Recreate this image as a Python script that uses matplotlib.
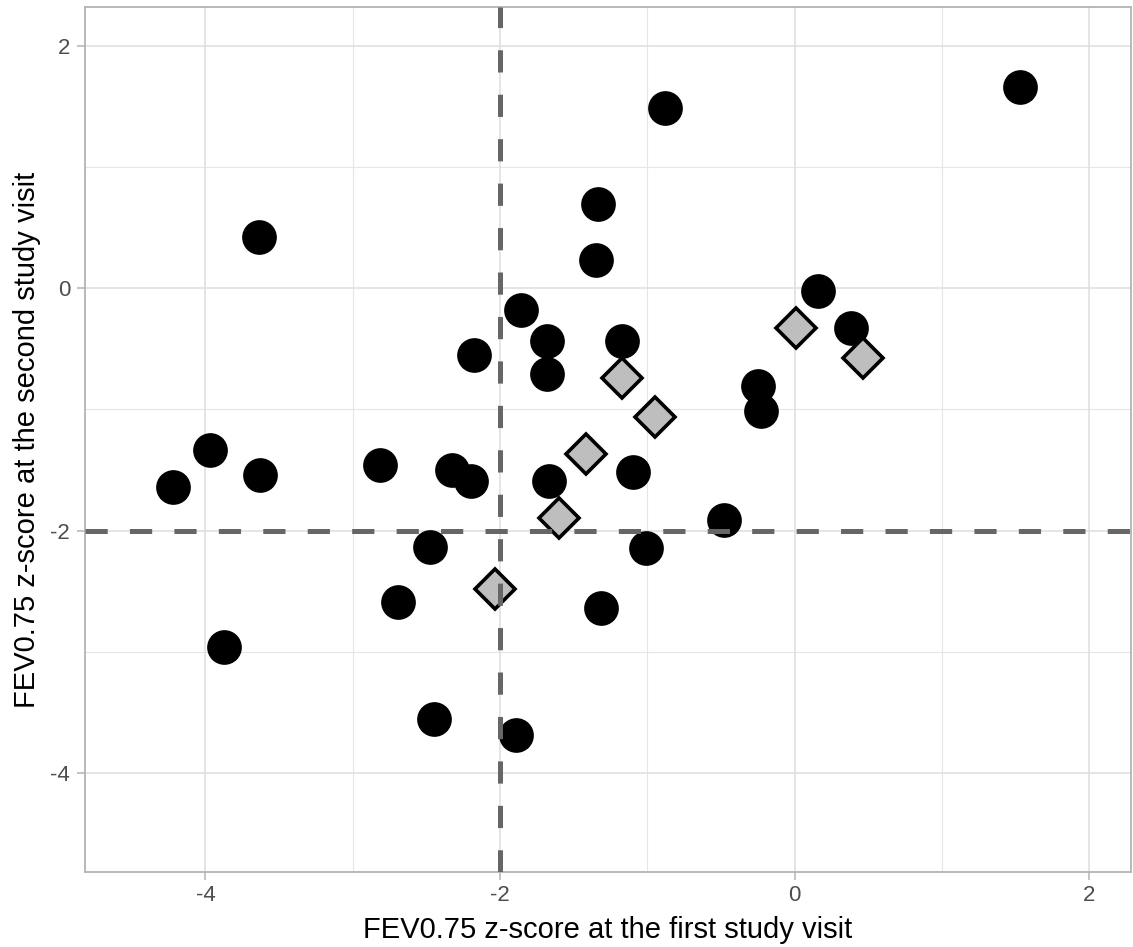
"""
FEV0.75 z-scores at the first vs. second study visit.

Black circles and grey diamonds mark the two groups of children;
dashed lines show the -2 z-score cut-off on both visits.

Outputs:
    out.png
"""

import matplotlib.pyplot as plt

plt.rcParams['font.family'] = ['Liberation Sans', 'DejaVu Sans']
plt.rcParams['axes.unicode_minus'] = False
plt.rcParams['lines.scale_dashes'] = False

# z-scores, group 1 (filled circles)
circle_x = [1.530, -0.880, -1.337, -3.635, -1.351, 0.156, -1.861, 0.380,
            -1.680, -1.172, -2.177, -1.684, -0.249, -0.231, -3.970, -4.219,
            -3.628, -2.815, -2.329, -2.200, -1.668, -1.096, -0.478, -2.478,
            -1.012, -2.695, -1.315, -3.872, -2.447, -1.892]
circle_y = [1.662, 1.486, 0.696, 0.426, 0.234, -0.020, -0.179, -0.325,
            -0.435, -0.433, -0.548, -0.704, -0.803, -1.016, -1.335, -1.643,
            -1.542, -1.462, -1.497, -1.594, -1.591, -1.514, -1.913, -2.134,
            -2.142, -2.590, -2.642, -2.960, -3.559, -3.689]

# z-scores, group 2 (grey diamonds)
diamond_x = [0.007, 0.462, -1.175, -0.946, -1.417, -1.600, -2.033]
diamond_y = [-0.328, -0.576, -0.738, -1.060, -1.368, -1.899, -2.483]

CUTOFF = -2
X_TICKS = [-4, -2, 0, 2]
Y_TICKS = [-4, -2, 0, 2]
X_MINOR = [-3, -1, 1]
Y_MINOR = [-3, -1, 1]

fig = plt.figure(figsize=(11.33, 9.47), dpi=100)
ax = fig.add_axes([84.5 / 1133, 75 / 947, (1131 - 84.5) / 1133, (872 - 7) / 947])

ax.set_xlim(-4.821, 2.283)
ax.set_ylim(-4.82, 2.323)

# light theme grid
for v in X_MINOR:
    ax.axvline(v, color='#E6E6E6', lw=0.8, zorder=0)
for v in Y_MINOR:
    ax.axhline(v, color='#E6E6E6', lw=0.8, zorder=0)
for v in X_TICKS:
    ax.axvline(v, color='#DEDEDE', lw=1.1, zorder=0)
for v in Y_TICKS:
    ax.axhline(v, color='#DEDEDE', lw=1.1, zorder=0)

ax.plot(circle_x, circle_y, linestyle='none', marker='o', markersize=25,
        markerfacecolor='black', markeredgewidth=0, zorder=2)
ax.plot(diamond_x, diamond_y, linestyle='none', marker='D', markersize=20,
        markerfacecolor='#BEBEBE', markeredgecolor='black',
        markeredgewidth=2.6, zorder=3)

ax.axvline(CUTOFF, color='#666666', lw=3.6, dashes=(16, 16), zorder=4)
ax.axhline(CUTOFF, color='#666666', lw=3.6, dashes=(16, 16), zorder=4)

ax.set_xticks(X_TICKS)
ax.set_yticks(Y_TICKS)
ax.tick_params(axis='both', length=5.8, width=1.1, color='#B3B3B3',
               labelcolor='#4D4D4D', labelsize=16)
ax.tick_params(axis='x', pad=3.5)
ax.tick_params(axis='y', pad=4.5)

for spine in ax.spines.values():
    spine.set_color('#B3B3B3')
    spine.set_linewidth(1.3)

ax.set_xlabel('FEV0.75 z-score at the first study visit', fontsize=21,
              color='black', labelpad=7)
ax.set_ylabel('FEV0.75 z-score at the second study visit', fontsize=21,
              color='black', labelpad=7)

fig.savefig('out.png', dpi=100)
